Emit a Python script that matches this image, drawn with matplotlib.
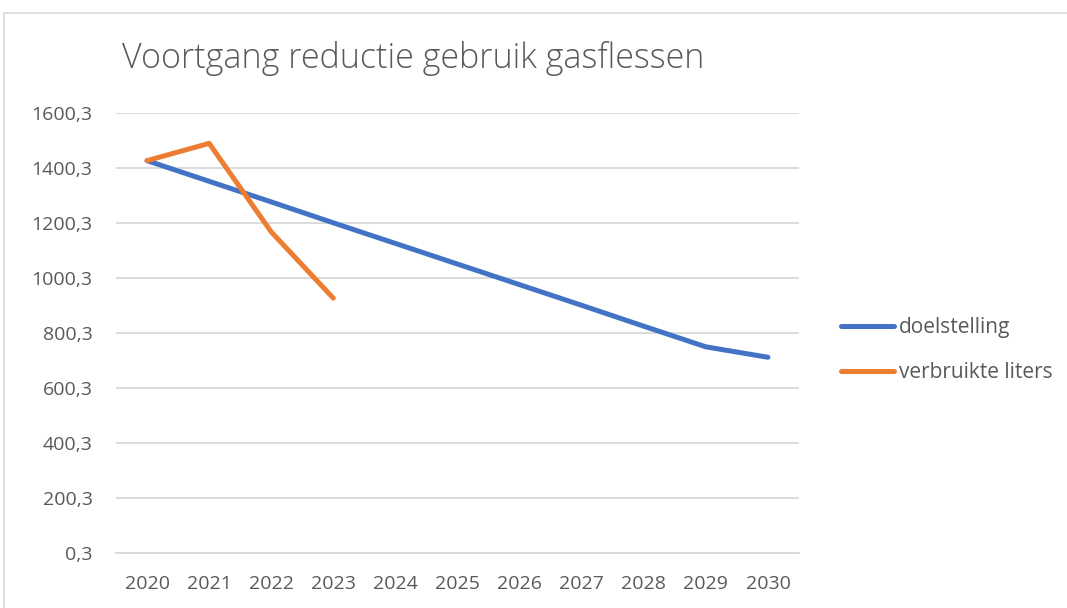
import matplotlib
matplotlib.use("Agg")
from matplotlib import pyplot as plt
from matplotlib.patches import Rectangle

# data
years = ["2020", "2021", "2022", "2023", "2024", "2025", "2026", "2027", "2028", "2029", "2030"]
doelstelling = [1427, 1352, 1277, 1201, 1126, 1051, 976, 901, 825, 750, 712]
verbruikt_years = ["2020", "2021", "2022", "2023"]
verbruikt = [1427, 1490, 1168, 927]
y_ticks = [0.3, 200.3, 400.3, 600.3, 800.3, 1000.3, 1200.3, 1400.3, 1600.3]

plt.rcParams['font.family'] = ['Open Sans', 'DejaVu Sans']
grey = '#595959'

fig = plt.figure(figsize=(10.67, 6.08), dpi=100)
ax = fig.add_axes([116/1067, 1-553/608, (799-116)/1067, (553-113)/608])

# outer chart border (cropped at right/bottom)
fig.patches.append(Rectangle((4/1067, -0.1), 1.2, 1 - 13/608 + 0.1, transform=fig.transFigure,
                             fill=False, edgecolor='#D9D9D9', linewidth=1.2))

x = list(range(len(years)))
ax.plot(x, doelstelling, color='#4472C4', lw=3.6, solid_capstyle='round', solid_joinstyle='round', label='doelstelling')
ax.plot(x[:len(verbruikt)], verbruikt, color='#ED7D31', lw=3.6, solid_capstyle='round', solid_joinstyle='round', label='verbruikte liters')

ax.set_xlim(-0.5, len(years) - 0.5)
ax.set_ylim(0.3, 1600.3)
ax.set_xticks(x)
ax.set_xticklabels(years)
ax.set_yticks(y_ticks)
ax.set_yticklabels([("%.1f" % v).replace('.', ',') for v in y_ticks])
ax.grid(axis='y', color='#D9D9D9', lw=1.3)
ax.set_axisbelow(True)
for s in ['top', 'right', 'left']:
    ax.spines[s].set_visible(False)
ax.spines['bottom'].set_color('#D9D9D9')
ax.spines['bottom'].set_linewidth(1.3)
ax.tick_params(length=0, labelsize=14, labelcolor=grey)
ax.tick_params(axis='y', pad=17)
ax.tick_params(axis='x', pad=16)

fig.text(122/1067, 1-58/608, "Voortgang reductie gebruik gasflessen", fontsize=24.5, color=grey,
         ha='left', va='center', fontweight='light')

leg = fig.legend(loc='center left', bbox_to_anchor=(822/1067, 1-350/608), frameon=False, fontsize=15,
                 handlelength=2.55, handletextpad=0.24, labelspacing=1.15)
for t in leg.get_texts():
    t.set_color(grey)

fig.savefig("out.png", dpi=100)
